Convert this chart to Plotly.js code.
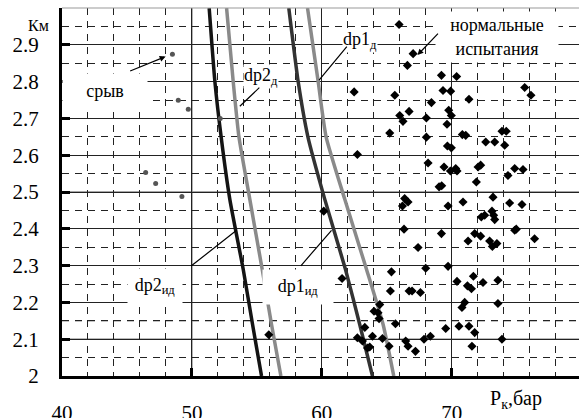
<!DOCTYPE html>
<html>
<head>
<meta charset="utf-8">
<script src="https://cdn.plot.ly/plotly-3.0.1.min.js"></script>
<style>html,body{margin:0;padding:0;background:#fff;}#chart{width:579px;height:418px;}</style>
</head>
<body>
<div id="chart"></div>
<script>
// Curves (P_k, bar vs K_m)
const curveY = [3.0, 2.8, 2.65, 2.48, 2.29, 2.14, 2.0];
const dp2id = [51.33, 51.77, 52.25, 52.92, 53.95, 54.67, 55.36];
const dp2d  = [52.67, 53.18, 53.62, 54.46, 55.41, 56.13, 56.85];
const dp1id = [57.46, 58.18, 58.93, 60.23, 61.82, 62.92, 63.9];
const dp1d  = [58.9, 59.72, 60.33, 61.77, 63.44, 64.72, 65.54];

// Surge points ("срыв")
const surgeX = [48.5, 48.95, 49.72, 52.18, 46.44, 47.21, 49.23];
const surgeY = [2.874, 2.749, 2.725, 2.70, 2.553, 2.523, 2.488];

// Normal tests ("нормальные испытания")
const normX = [62.49, 62.74, 60.15, 61.56, 55.92, 63.31, 62.74, 63.13, 63.52, 63.69,
  65.95, 67.03, 66.59, 69.21, 70.38, 65.62, 69.33, 69.92, 71.33, 68.44, 75.62, 76.1,
  66.0, 66.72, 66.25, 69.77, 69.97, 68.05, 69.64, 65.23, 68.05, 70.82, 71.08, 73.87, 74.2,
  69.67, 69.97, 72.62, 73.31, 74.08, 68.18, 69.41, 69.9, 70.31, 70.41, 72.03, 72.23,
  74.85, 75.49, 74.33, 71.9, 69.03, 69.23, 66.38, 66.64, 66.21, 70.87, 73.18, 74.46,
  75.41, 69.72, 73.1, 73.23, 72.54, 72.28, 73.31, 66.33, 74.85, 74.97, 69.21, 71.77,
  72.23, 71.26, 72.92, 73.48, 73.13, 76.38, 67.41, 68.0, 69.72,
  65.36, 71.67, 70.41, 71.21, 71.52, 72.41, 73.56, 65.28, 66.72, 66.95, 67.59, 64.46,
  64.02, 64.33, 64.41, 71.0, 70.79, 73.56, 65.67, 69.54, 70.56, 71.33, 71.77, 63.9,
  64.67, 65.18, 66.46, 66.64, 67.21, 67.87, 68.36, 71.56, 73.87];
const normY = [2.772, 2.602, 2.448, 2.265, 2.112, 2.132, 2.104, 2.095, 2.076, 2.079,
  2.955, 2.876, 2.844, 2.817, 2.814, 2.763, 2.776, 2.774, 2.752, 2.743, 2.784, 2.763,
  2.708, 2.719, 2.692, 2.722, 2.708, 2.701, 2.684, 2.66, 2.649, 2.656, 2.654, 2.665, 2.665,
  2.625, 2.62, 2.636, 2.636, 2.627, 2.579, 2.568, 2.557, 2.564, 2.557, 2.568, 2.573,
  2.564, 2.561, 2.545, 2.527, 2.514, 2.517, 2.482, 2.473, 2.462, 2.473, 2.486, 2.47,
  2.466, 2.462, 2.448, 2.437, 2.437, 2.432, 2.425, 2.399, 2.396, 2.399, 2.387, 2.387,
  2.38, 2.367, 2.367, 2.36, 2.352, 2.373, 2.349, 2.293, 2.298,
  2.283, 2.271, 2.257, 2.245, 2.237, 2.254, 2.26, 2.231, 2.231, 2.231, 2.227, 2.194,
  2.176, 2.172, 2.156, 2.2, 2.186, 2.197, 2.142, 2.129, 2.135, 2.135, 2.118, 2.108,
  2.102, 2.081, 2.095, 2.081, 2.067, 2.1, 2.108, 2.081, 2.1];

const yTicks = [2, 2.1, 2.2, 2.3, 2.4, 2.5, 2.6, 2.7, 2.8, 2.9];
const xTicks = [40, 50, 60, 70];

const FONT = 'Liberation Serif, serif';

function curve(x, color, w) {
  return {x: x, y: curveY, mode: 'lines', type: 'scatter', line: {color: color, width: w, shape: 'spline', smoothing: 0.5}, hoverinfo: 'skip'};
}

const data = [
  curve(dp2id, '#141414', 3.5),
  curve(dp2d, '#8a8a8a', 3.5),
  curve(dp1id, '#333333', 3.5),
  curve(dp1d, '#8a8a8a', 3.5),
  {x: surgeX, y: surgeY, mode: 'markers', type: 'scatter', marker: {symbol: 'circle', size: 5, color: '#555'}},
  {x: normX, y: normY, mode: 'markers', type: 'scatter', marker: {symbol: 'diamond', size: 7, color: '#000'}}
];

function txt(x, y, text, extra) {
  return Object.assign({x: x, y: y, xref: 'x', yref: 'y', text: text, showarrow: false,
    font: {family: FONT, size: 18, color: '#000'}, bgcolor: '#fff', borderpad: 0}, extra || {});
}
function arrow(x, y, ax, ay, head) {
  return {x: x, y: y, xref: 'x', yref: 'y', ax: ax, ay: ay, text: '', showarrow: true,
    arrowhead: head ? 2 : 0, arrowsize: 1, arrowwidth: 1.2, arrowcolor: '#000', standoff: 0, startstandoff: 0};
}

const layout = {
  width: 579, height: 418,
  margin: {l: 62, r: 0, t: 8, b: 42},
  paper_bgcolor: '#fff', plot_bgcolor: '#fff',
  showlegend: false,
  font: {family: FONT, size: 21, color: '#000'},
  xaxis: {
    range: [40, 79.8], tickmode: 'array', tickvals: xTicks,
    showgrid: true, gridcolor: '#222', gridwidth: 1,
    minor: {tick0: 40, dtick: 2, showgrid: true, gridcolor: '#222', gridwidth: 1, griddash: '7px,6px', ticks: ''},
    ticks: 'inside', ticklen: 8, tickwidth: 3, tickcolor: '#000',
    showline: true, linewidth: 3, linecolor: '#000', zeroline: false,
    tickfont: {family: FONT, size: 21, color: '#000'}, ticklabelstandoff: 16
  },
  yaxis: {
    range: [2, 3], tickmode: 'array', tickvals: yTicks,
    showgrid: true, gridcolor: '#222', gridwidth: 1,
    minor: {tick0: 2, dtick: 0.05, showgrid: true, gridcolor: '#222', gridwidth: 1, griddash: '7px,6px', ticks: ''},
    ticks: 'inside', ticklen: 8, tickwidth: 3, tickcolor: '#000',
    showline: true, linewidth: 3, linecolor: '#000', zeroline: false,
    tickfont: {family: FONT, size: 21, color: '#000'}, ticklabelstandoff: 16
  },
  shapes: [
    {type: 'line', xref: 'paper', yref: 'paper', x0: 0, x1: 1, y0: 1, y1: 1, line: {color: '#999', width: 1}},
    {type: 'line', xref: 'paper', yref: 'y', x0: 0, x1: 1, y0: 2.5, y1: 2.5, layer: 'between', line: {color: '#888', width: 1.5}},
    {type: 'line', xref: 'paper', yref: 'y', x0: 0, x1: 1, y0: 2.1, y1: 2.1, layer: 'between', line: {color: '#777', width: 1.5}},
    {type: 'line', xref: 'paper', yref: 'y', x0: 0, x1: 1, y0: 2.15, y1: 2.15, layer: 'between', line: {color: '#888', width: 1.5, dash: '7px,6px'}},
    {type: 'line', xref: 'x', yref: 'paper', x0: 50, x1: 50, y0: 0, y1: 1, layer: 'between', line: {color: '#888', width: 1.5}}
  ],
  annotations: [
    txt(40, 2.823, 'срыв', {xanchor: 'left', yanchor: 'top', width: 84, height: 33, align: 'center'}),
    arrow(47.98, 2.868, -37, 15, true),
    txt(55.31, 2.815, 'dp2<sub>д</sub>'),
    arrow(53.69, 2.733, 21, -20, false),
    txt(62.92, 2.913, 'dp1<sub>д</sub>'),
    arrow(59.79, 2.804, 29, -35, false),
    txt(73.46, 2.921, 'нормальные<br>испытания', {width: 122, height: 50}),
    arrow(67.36, 2.872, 22, -23, true),
    txt(47.15, 2.244, 'dp2<sub>ид</sub>', {width: 54, height: 34}),
    arrow(53.44, 2.396, -47, 37, false),
    txt(58.15, 2.241, 'dp1<sub>ид</sub>', {width: 70, height: 34}),
    arrow(60.75, 2.396, -32, 37, false),
    {xref: 'paper', yref: 'paper', x: -0.0696, y: 0.981, text: 'Км', showarrow: false,
     font: {family: FONT, size: 16, color: '#000'}},
    {xref: 'paper', yref: 'paper', x: 0.824, xanchor: 'left', y: -0.0634, yanchor: 'middle', text: 'P<sub>к</sub>,бар', showarrow: false,
     font: {family: FONT, size: 20, color: '#000'}}
  ]
};

Plotly.newPlot('chart', data, layout, {staticPlot: true, displayModeBar: false});
</script>
</body>
</html>
